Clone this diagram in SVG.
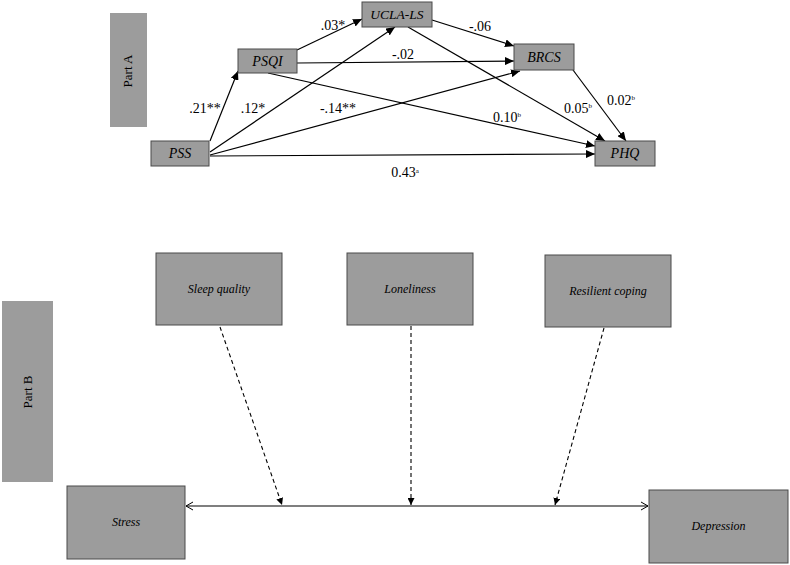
<svg xmlns="http://www.w3.org/2000/svg" width="790" height="565" viewBox="0 0 790 565">
<style>
.box{fill:#9c9c9c;stroke:#4a4a4a;stroke-width:1}
.lab{fill:#9c9c9c}
text{font-family:'Liberation Serif','Times New Roman','DejaVu Serif',serif;fill:#000;text-anchor:middle}
.t{font-style:italic}
.n{font-size:14px}
.p{font-size:13px}
.a{stroke:#000;stroke-width:1.2;fill:none;marker-end:url(#ah)}
.d{stroke:#000;stroke-width:1.1;fill:none;stroke-dasharray:4 3;marker-end:url(#dh)}
.sup{font-size:7px}
</style>
<defs>
<marker id="ah" markerUnits="userSpaceOnUse" markerWidth="10" markerHeight="8" refX="9" refY="4" orient="auto"><path d="M0,0 L9,4 L0,8 Z" fill="#000"/></marker>
<marker id="dh" markerUnits="userSpaceOnUse" markerWidth="8" markerHeight="7" refX="7" refY="3.5" orient="auto"><path d="M0,0 L7,3.5 L0,7 Z" fill="#000"/></marker>
<marker id="oh" markerUnits="userSpaceOnUse" markerWidth="8" markerHeight="10" refX="7" refY="5" orient="auto"><path d="M0,1 L7,5 L0,9" fill="none" stroke="#000" stroke-width="1"/></marker>
<marker id="ohs" markerUnits="userSpaceOnUse" markerWidth="8" markerHeight="10" refX="1" refY="5" orient="auto"><path d="M8,1 L1,5 L8,9" fill="none" stroke="#000" stroke-width="1"/></marker>
</defs>

<g id="partA-label"><rect class="lab" x="110" y="13" width="37" height="114"/><text class="p" transform="translate(132,71) rotate(-90)">Part A</text></g>

<g id="connectors-A">
<path class="a" d="M210,141 L238,71"/>
<path class="a" d="M210,152 L395,27"/>
<path class="a" d="M210,155 L520,71"/>
<path class="a" d="M210,156 L595,154"/>
<path class="a" d="M297,50 L362,19"/>
<path class="a" d="M297,63 L514,61"/>
<path class="a" d="M268,73 L595,146"/>
<path class="a" d="M432,20 L514,46"/>
<path class="a" d="M408,27 L605,141"/>
<path class="a" d="M573,70 L626,141"/>
</g>

<g id="labels-A">
<text class="n" x="333" y="30">.03*</text>
<text class="n" x="403" y="59">-.02</text>
<text class="n" x="480" y="31">-.06</text>
<text class="n" x="205" y="113">.21**</text>
<text class="n" x="253" y="113">.12*</text>
<text class="n" x="338" y="113">-.14**</text>
<text class="n" x="507" y="122">0.10<tspan class="sup" dy="-5">b</tspan></text>
<text class="n" x="578" y="113">0.05<tspan class="sup" dy="-5">b</tspan></text>
<text class="n" x="621" y="105">0.02<tspan class="sup" dy="-5">b</tspan></text>
<text class="n" x="405" y="177">0.43<tspan class="sup" dy="-4">a</tspan></text>
</g>

<g id="PSQI"><rect class="box" x="238" y="49" width="59" height="24"/><text class="t" x="267.5" y="66" font-size="14">PSQI</text></g>
<g id="UCLA-LS"><rect class="box" x="362" y="2" width="70" height="25"/><text class="t" x="397" y="19" font-size="13.5">UCLA-LS</text></g>
<g id="PSS"><rect class="box" x="151" y="141" width="58" height="25"/><text class="t" x="180" y="158" font-size="14">PSS</text></g>
<g id="BRCS"><rect class="box" x="514" y="44" width="60" height="26"/><text class="t" x="544" y="62" font-size="14">BRCS</text></g>
<g id="PHQ"><rect class="box" x="595" y="141" width="60" height="25"/><text class="t" x="625" y="158" font-size="14">PHQ</text></g>

<g id="partB-label"><rect class="lab" x="2" y="301" width="51" height="181"/><text class="p" transform="translate(32,392) rotate(-90)">Part B</text></g>

<g id="connectors-B">
<path d="M186,506 L648,506" stroke="#000" stroke-width="1.2" fill="none" marker-start="url(#ohs)" marker-end="url(#oh)"/>
<path class="d" d="M220,327 L282,505"/>
<path class="d" d="M411,326 L411,505"/>
<path class="d" d="M604,328 L555,505"/>
</g>

<g id="SleepQuality"><rect class="box" x="156" y="253" width="126" height="72"/><text class="t" x="219" y="293" font-size="12">Sleep quality</text></g>
<g id="Loneliness"><rect class="box" x="347" y="253" width="126" height="72"/><text class="t" x="410" y="293" font-size="12">Loneliness</text></g>
<g id="ResilientCoping"><rect class="box" x="545" y="255" width="126" height="72"/><text class="t" x="608" y="295" font-size="12">Resilient coping</text></g>
<g id="Stress"><rect class="box" x="67" y="486" width="118" height="73"/><text class="t" x="126" y="526" font-size="12">Stress</text></g>
<g id="Depression"><rect class="box" x="649" y="490" width="139" height="73"/><text class="t" x="718.5" y="530" font-size="12">Depression</text></g>
</svg>
